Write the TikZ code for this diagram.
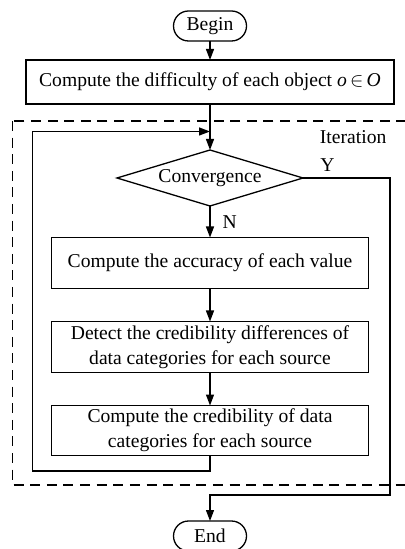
\documentclass[tikz,border=0pt]{standalone}
\usepackage{fontspec}
\setmainfont{Liberation Serif}
\usepackage{tikz}
\usetikzlibrary{positioning,arrows.meta,shapes.geometric}

\begin{document}
\begin{tikzpicture}[
        node distance=16.5pt,
        font=\fontsize{9.8}{12.5}\selectfont,
        line width=0.65pt,
        every node/.style={outer sep=0pt},
        terminal/.style={rectangle,draw,rounded corners=7.5pt,minimum width=36.5pt,minimum height=15pt,inner sep=1pt},
        box/.style={rectangle,draw,align=center,minimum width=158.5pt,minimum height=25.5pt,inner sep=1pt},
        decision/.style={diamond,draw,aspect=3.3,minimum width=93pt,minimum height=28pt,inner sep=0pt},
        arrow/.style={-{Triangle[length=5.5pt,width=4pt]}},
        frame/.style={dashed,dash pattern=on 5pt off 3.3pt}]
        \useasboundingbox (-105pt,13pt) rectangle (97pt,-261.5pt);
        \node[terminal] (begin) at (0,0) {Begin};
        \node[box,minimum width=184pt,minimum height=22pt,below=9.5pt of begin] (diff) {Compute the difficulty of each object \textit{o}\,$\in$\,\textit{O}};
        \node[decision,below=23pt of diff] (conv) {Convergence};
        \node[box,below=15.75pt of conv] (acc) {Compute the accuracy of each value};
        \node[box,below=of acc] (detect) {Detect the credibility differences of\\data categories for each source};
        \node[box,minimum height=25pt,below=of detect] (cred) {Compute the credibility of data\\categories for each source};
        \node[terminal,below=32.75pt of cred] (end) {End};
        % iteration frame
        \draw[frame] (-98.75pt,-47.5pt) rectangle (104pt,-229.5pt);
        \node[anchor=east] (iter) at (91.5pt,-55.5pt) {Iteration};
        \coordinate (join) at (0,-52.75pt);
        \coordinate (loopbot) at (-88.75pt,-222.5pt);
        \coordinate (ycorner) at (90pt,-234.5pt);
        \draw[arrow] (begin) -- (diff);
        \draw[arrow] (diff) -- (conv);
        \draw[arrow] (conv) -- node[right,xshift=3pt]{N} (acc);
        \draw[arrow] (acc) -- (detect);
        \draw[arrow] (detect) -- (cred);
        \draw[arrow] (cred.south) |- (loopbot) |- (join);
        \draw[arrow] (conv.east) -| node[pos=0.14,above]{Y} (ycorner) -| (end.north);
    \end{tikzpicture}
\end{document}
